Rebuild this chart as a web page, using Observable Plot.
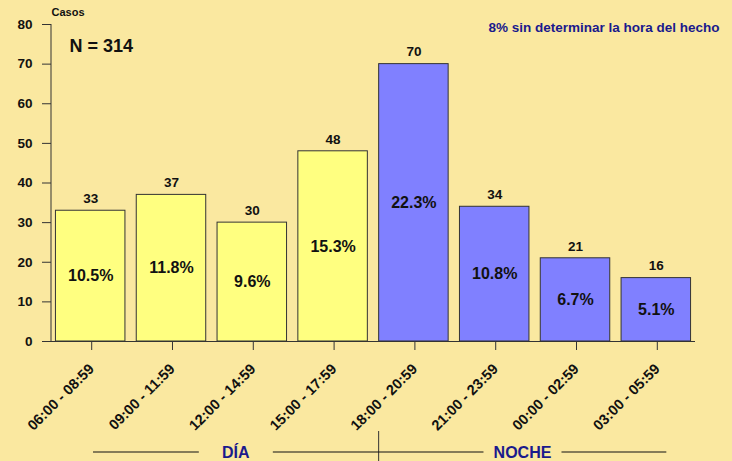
<!DOCTYPE html>
<html>
<head>
<meta charset="utf-8">
<script src="https://cdn.jsdelivr.net/npm/d3@7"></script>
<script src="https://cdn.jsdelivr.net/npm/@observablehq/plot@0.6"></script>
<style>
  html, body { margin: 0; padding: 0; background: #FAE8A0; }
  svg { display: block; }
</style>
</head>
<body>
<div id="chart"></div>
<script>
const categories = ["06:00 - 08:59", "09:00 - 11:59", "12:00 - 14:59", "15:00 - 17:59",
                    "18:00 - 20:59", "21:00 - 23:59", "00:00 - 02:59", "03:00 - 05:59"];
const casos = [33, 37, 30, 48, 70, 34, 21, 16];
const porcentajes = ["10.5%", "11.8%", "9.6%", "15.3%", "22.3%", "10.8%", "6.7%", "5.1%"];
const periodo = ["DÍA", "DÍA", "DÍA", "DÍA", "NOCHE", "NOCHE", "NOCHE", "NOCHE"];
const yTicks = [0, 10, 20, 30, 40, 50, 60, 70, 80];
const totalLabel = "N = 314";
const noteLabel = "8% sin determinar la hora del hecho";
const yLabel = "Casos";

const data = categories.map((c, i) => ({cat: c, value: casos[i], pct: porcentajes[i], per: periodo[i]}));

const font = "'Liberation Sans', Arial, sans-serif";
const W = 732, H = 461;

const chart = Plot.plot({
  width: W,
  height: H,
  marginLeft: 51,
  marginRight: 37,
  marginTop: 24,
  marginBottom: 120,
  style: {background: "#FAE8A0", fontFamily: font, fontWeight: "bold", fontSize: "13px", color: "#111"},
  x: {domain: categories, paddingInner: 0.14, paddingOuter: 0.055, round: false, label: null},
  y: {domain: [0, 80], label: null},
  color: {domain: ["DÍA", "NOCHE"], range: ["#FFFF80", "#8080FF"]},
  marks: [
    Plot.barY(data, {x: "cat", y: "value", fill: "per", stroke: "#333", strokeWidth: 1}),
    Plot.ruleY([0], {stroke: "#333"}),
    Plot.axisY({ticks: yTicks, tickSize: 9, tickPadding: 10, stroke: "#333", fontSize: 13.5, fontWeight: "bold", label: null}),
    Plot.axisX({tickSize: 9, tickPadding: 16, dx: 1, tickRotate: -45, stroke: "#333", fontSize: 14.5, fontWeight: "bold", label: null}),
    Plot.text(data, {x: "cat", y: "value", text: d => String(d.value), dy: -12, fontSize: 13.5, fontWeight: "bold", fill: "#111"}),
    Plot.text(data, {x: "cat", y: d => d.value / 2, text: "pct", fontSize: 16, fontWeight: "bold", fill: "#111"}),
    Plot.text([yLabel], {frameAnchor: "top-left", dy: -16, dx: 0, textAnchor: "start", fontSize: 11, fontWeight: "bold", fill: "#111"}),
    Plot.text([totalLabel], {frameAnchor: "top-left", dx: 18, dy: 15, textAnchor: "start", fontSize: 18, fontWeight: "bold", fill: "#111"}),
    Plot.text([noteLabel], {frameAnchor: "top-right", dx: 24, dy: -2, textAnchor: "end", fontSize: 13.5, fontWeight: "bold", fill: "#1A1A8C"})
  ]
});

const svg = d3.select(chart);
const ys = chart.scale("y");
const xs = chart.scale("x");
const yTop = Math.min(ys.range[0], ys.range[1]);
const yBot = Math.max(ys.range[0], ys.range[1]);
const x0 = xs.range[0];
// Left axis line
svg.append("line").attr("x1", x0).attr("x2", x0).attr("y1", yTop).attr("y2", yBot).attr("stroke", "#333");

// Group brackets DÍA / NOCHE derived from the band scale
const n = categories.length;
const step = xs.step;
const offset = ((xs.range[1] - xs.range[0]) - step * (n - xs.paddingInner)) / 2;
const bandLeft = i => x0 + offset + step * i;
const groupLineY = H - 9;
const divider = bandLeft(4);
const groups = [
  {name: "DÍA", from: bandLeft(0) + step * 0.465, to: divider, gap: 37},
  {name: "NOCHE", from: divider, to: bandLeft(7) + step * 0.56, gap: 39}
];
const g = svg.append("g");
g.append("line").attr("x1", divider).attr("x2", divider).attr("y1", H - 30).attr("y2", H).attr("stroke", "#333");
groups.forEach(gr => {
  const cx = (gr.from + gr.to) / 2;
  g.append("text").attr("x", cx).attr("y", groupLineY).attr("dy", "0.35em")
    .attr("text-anchor", "middle").attr("fill", "#1A1A8C")
    .attr("font-family", font).attr("font-weight", "bold").attr("font-size", 16).text(gr.name);
  g.append("line").attr("x1", gr.from).attr("x2", cx - gr.gap).attr("y1", groupLineY).attr("y2", groupLineY).attr("stroke", "#111");
  g.append("line").attr("x1", cx + gr.gap).attr("x2", gr.to).attr("y1", groupLineY).attr("y2", groupLineY).attr("stroke", "#111");
});

document.getElementById("chart").appendChild(chart);
</script>
</body>
</html>
